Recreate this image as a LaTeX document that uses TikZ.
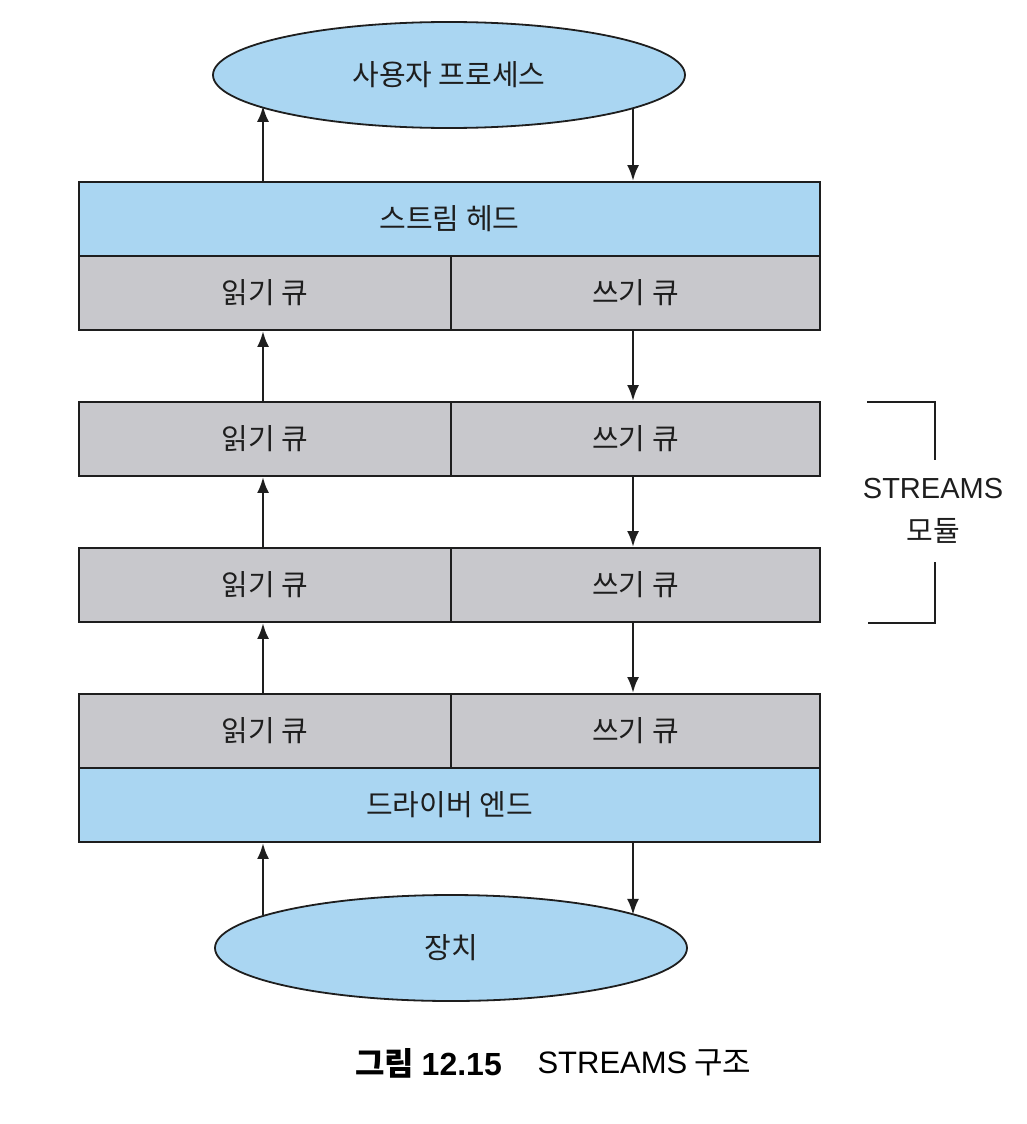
\documentclass[tikz,border=0pt]{standalone}
\usepackage{fontspec}
\setmainfont{Noto Sans CJK KR}
\newfontfamily\latinfont{Liberation Sans}
\usetikzlibrary{arrows.meta,shapes.geometric}
\definecolor{boxblue}{RGB}{170,214,242}
\definecolor{boxgray}{RGB}{200,200,204}
\definecolor{ink}{RGB}{30,30,30}
\begin{document}
\begin{tikzpicture}[x=1pt,y=-1pt,
  lbl/.style={font=\fontsize{29}{34}\selectfont, text=ink},
  blk/.style={draw=ink, line width=1.8pt, inner sep=0pt, lbl},
  bluebox/.style={blk, fill=boxblue, minimum width=741pt, minimum height=74pt},
  readbox/.style={blk, fill=boxgray, minimum width=372pt, minimum height=74pt},
  writebox/.style={blk, fill=boxgray, minimum width=369pt, minimum height=74pt},
  oval/.style={ellipse, draw=ink, line width=1.8pt, fill=boxblue, minimum width=472pt, minimum height=106pt, inner sep=0pt, lbl},
  arr/.style={draw=ink, line width=2.8pt, -{Latex[length=16pt,width=12pt]}},
  brk/.style={draw=ink, line width=1.4pt}]
\useasboundingbox (0,0) rectangle (1026,1124);
\fill[white] (0,0) rectangle (1026,1124);

\node[oval] (user) at (449,75) {사용자 프로세스};
\node[bluebox] (head) at (449.5,219) {스트림 헤드};
\node[readbox] (r1) at (265,293) {읽기 큐};
\node[writebox] (w1) at (635.5,293) {쓰기 큐};
\node[readbox] (r2) at (265,439) {읽기 큐};
\node[writebox] (w2) at (635.5,439) {쓰기 큐};
\node[readbox] (r3) at (265,585) {읽기 큐};
\node[writebox] (w3) at (635.5,585) {쓰기 큐};
\node[readbox] (r4) at (265,731) {읽기 큐};
\node[writebox] (w4) at (635.5,731) {쓰기 큐};
\node[bluebox] (drv) at (449.5,805) {드라이버 엔드};
\node[oval] (dev) at (451,948) {장치};

\coordinate (lx) at (263,0);
\coordinate (rx) at (633,0);

\draw[arr] (head.north -| lx) -- (lx |- user.189.94);
\draw[arr] (rx |- user.-10.23) -- (head.north -| rx);
\draw[arr] (r2.north -| lx) -- (r1.south -| lx);
\draw[arr] (r3.north -| lx) -- (r2.south -| lx);
\draw[arr] (r4.north -| lx) -- (r3.south -| lx);
\draw[arr] (w1.south -| rx) -- (w2.north -| rx);
\draw[arr] (w2.south -| rx) -- (w3.north -| rx);
\draw[arr] (w3.south -| rx) -- (w4.north -| rx);
\draw[arr] (lx |- dev.170.34) -- (drv.south -| lx);
\draw[arr] (drv.south -| rx) -- (rx |- dev.10.49);

\draw[brk] (867,402) -- (935,402) -- (935,460);
\draw[brk] (935,562) -- (935,623) -- (868,623);
\node[lbl, font=\fontsize{29}{43}\selectfont, align=center] (mod) at (933,511) {{\latinfont STREAMS}\\모듈};

\node[anchor=west, text=black, font=\fontsize{32}{36}\selectfont\bfseries] (capnum) at (352,1063) {그림 {\latinfont\bfseries 12.15}};
\node[anchor=west, text=black, font=\fontsize{31}{36}\selectfont] (captxt) at (534,1063) {{\latinfont STREAMS} 구조};
\end{tikzpicture}
\end{document}
